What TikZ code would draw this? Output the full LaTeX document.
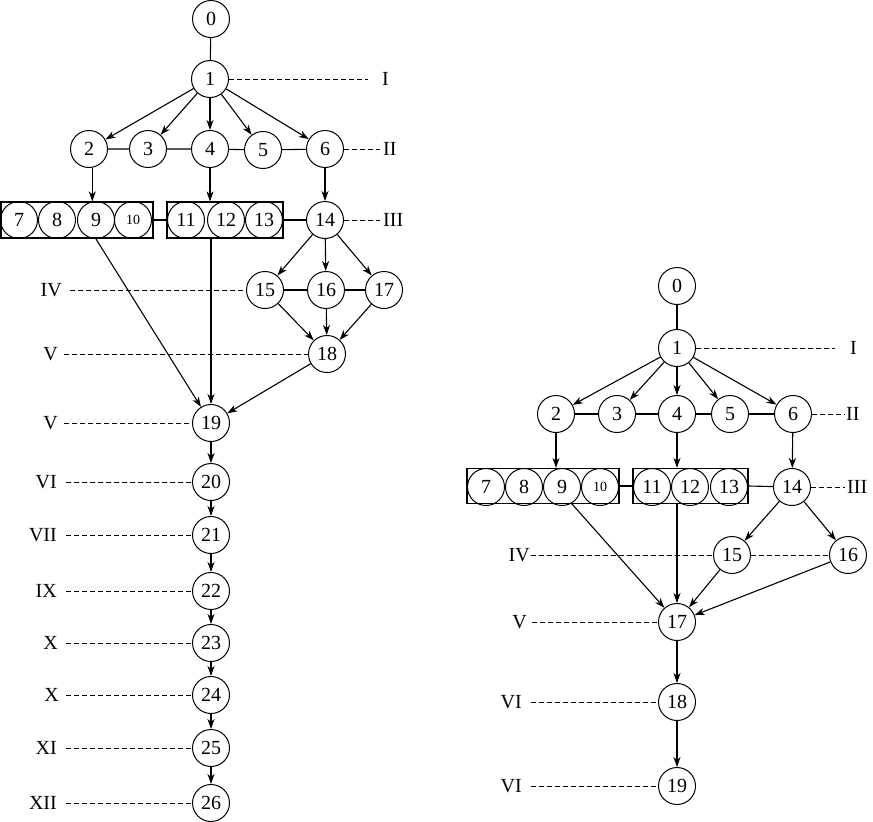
\documentclass[tikz,border=0pt]{standalone}
\usepackage{fontspec}
\setmainfont{Liberation Serif}
\usetikzlibrary{arrows.meta}
\begin{document}
\begin{tikzpicture}[x=1pt,y=-1pt,
  nd/.style={circle,draw,line width=1pt,minimum size=37pt,inner sep=0pt,font=\fontsize{20}{20}\selectfont},
  sm/.style={font=\fontsize{14}{14}\selectfont},
  bx/.style={draw,line width=1.2pt,inner sep=0pt},
  arr/.style={line width=1.1pt,-{Stealth[length=10pt,width=7pt,inset=3pt]}},
  ln/.style={line width=1.1pt},
  dsh/.style={line width=1pt,dash pattern=on 5pt off 3pt},
  tdsh/.style={line width=0.6pt,dash pattern=on 5pt off 3pt},
  lab/.style={font=\fontsize{20}{20}\selectfont,inner ysep=0pt}]
\useasboundingbox (0,0) rectangle (873,822);
% ---------------- left diagram ----------------
\node[nd] (a0) at (211,19) {0};
\node[nd] (a1) at (210,79) {1};
\node[nd] (a2) at (89,149) {2};
\node[nd] (a3) at (148,149) {3};
\node[nd] (a4) at (210,149) {4};
\node[nd] (a5) at (263,150) {5};
\node[nd] (a6) at (325,149) {6};
\node[bx,minimum width=152pt,minimum height=36pt] (aB1) at (77,220) {};
\node[nd] (a7) at (19,220) {7};
\node[nd] (a8) at (57,220) {8};
\node[nd] (a9) at (96,220) {9};
\node[nd,sm] (a10) at (133,220) {10};
\node[bx,minimum width=116pt,minimum height=36pt] (aB2) at (225,220) {};
\node[nd] (a11) at (186,220) {11};
\node[nd] (a12) at (226,220) {12};
\node[nd] (a13) at (264,220) {13};
\node[nd] (a14) at (325,220) {14};
\node[nd] (a15) at (265,290) {15};
\node[nd] (a16) at (326,290) {16};
\node[nd] (a17) at (384,290) {17};
\node[nd] (a18) at (327,354) {18};
\node[nd] (a19) at (211,423) {19};
\node[nd] (a20) at (211,482) {20};
\node[nd] (a21) at (211,535) {21};
\node[nd] (a22) at (211,591) {22};
\node[nd] (a23) at (211,643) {23};
\node[nd] (a24) at (211,695) {24};
\node[nd] (a25) at (211,748) {25};
\node[nd] (a26) at (211,803) {26};
% labels
\node[lab,anchor=west,inner xsep=14pt] (laI) at (368,79) {I};
\node[lab,anchor=west,inner xsep=3pt] (laII) at (380,149) {II};
\node[lab,anchor=west,inner xsep=3pt] (laIII) at (380,220) {III};
\node[lab,anchor=east,inner xsep=8pt] (laIV) at (70,290) {IV};
\node[lab,anchor=east,inner xsep=6pt] (laV) at (64,354) {V};
\node[lab,anchor=east,inner xsep=6pt] (laVb) at (64,423) {V};
\node[lab,anchor=east,inner xsep=9pt] (laVI) at (66,482) {VI};
\node[lab,anchor=east,inner xsep=9pt] (laVII) at (66,535) {VII};
\node[lab,anchor=east,inner xsep=9pt] (laIX) at (66,591) {IX};
\node[lab,anchor=east,inner xsep=8pt] (laX) at (66,643) {X};
\node[lab,anchor=east,inner xsep=7pt] (laXb) at (66,695) {X};
\node[lab,anchor=east,inner xsep=9pt] (laXI) at (66,748) {XI};
\node[lab,anchor=east,inner xsep=9pt] (laXII) at (66,803) {XII};
% connectors
\draw[ln] (a0)--(a1);
\draw[arr] (a1)--(a2);
\draw[arr] (a1)--(a3);
\draw[arr] (a1)--(a4);
\draw[arr] (a1)--(a5);
\draw[arr] (a1)--(a6);
\draw[ln] (a2)--(a3) (a3)--(a4) (a4)--(a5) (a5)--(a6);
\draw[arr] (a2.-80)--(a2.-80|-aB1.north);
\draw[arr] (a4)--(a4|-aB2.north);
\draw[arr] (a6)--(a14);
\draw[ln] (aB1.east)--(aB2.west);
\draw[ln] (aB2.east)--(a14);
\draw[arr] (a14)--(a15);
\draw[arr] (a14)--(a16);
\draw[arr] (a14)--(a17);
\draw[ln] (a15)--(a16) (a16)--(a17);
\draw[arr] (a15)--(a18);
\draw[arr] (a16)--(a18);
\draw[arr] (a17)--(a18);
\draw[arr] (a18)--(a19);
\draw[arr] (a9.south)--(a19);
\draw[arr] (a19|-aB2.south)--(a19);
\draw[arr] (a19)--(a20);
\draw[arr] (a20)--(a21);
\draw[arr] (a21)--(a22);
\draw[arr] (a22)--(a23);
\draw[arr] (a23)--(a24);
\draw[arr] (a24)--(a25);
\draw[arr] (a25)--(a26);
\draw[dsh] (a1.east)--(laI.west);
\draw[dsh] (a6.east)--(laII.west);
\draw[dsh] (a14.east)--(laIII.west);
\draw[dsh] (laIV.east)--(a15.west);
\draw[dsh] (laV.east)--(a18.west);
\draw[dsh] (laVb.east)--(a19.west);
\draw[dsh] (laVI.east)--(a20.west);
\draw[dsh] (laVII.east)--(a21.west);
\draw[dsh] (laIX.east)--(a22.west);
\draw[dsh] (laX.east)--(a23.west);
\draw[dsh] (laXb.east)--(a24.west);
\draw[dsh] (laXI.east)--(a25.west);
\draw[dsh] (laXII.east)--(a26.west);
% ---------------- right diagram ----------------
\node[nd] (b0) at (677,286) {0};
\node[nd] (b1) at (677,348) {1};
\node[nd] (b2) at (556,414) {2};
\node[nd] (b3) at (617,414) {3};
\node[nd] (b4) at (677,414) {4};
\node[nd] (b5) at (730,414) {5};
\node[nd] (b6) at (793,414) {6};
\node[bx,minimum width=152pt,minimum height=35pt] (bB1) at (543,486) {};
\node[nd] (b7) at (486,487) {7};
\node[nd] (b8) at (524,487) {8};
\node[nd] (b9) at (562,487) {9};
\node[nd,sm] (b10) at (600,487) {10};
\node[bx,minimum width=115pt,minimum height=35pt] (bB2) at (690.5,486) {};
\node[nd] (b11) at (652,487) {11};
\node[nd] (b12) at (690,487) {12};
\node[nd] (b13) at (729,487) {13};
\node[nd] (b14) at (792,487) {14};
\node[nd] (b15) at (732,555) {15};
\node[nd] (b16) at (848,555) {16};
\node[nd] (b17) at (677,622) {17};
\node[nd] (b18) at (677,702) {18};
\node[nd] (b19) at (677,786) {19};
\node[lab,anchor=west,inner xsep=15pt] (lbI) at (835,348) {I};
\node[lab,anchor=west,inner xsep=1pt] (lbII) at (845,414) {II};
\node[lab,anchor=west,inner xsep=2pt] (lbIII) at (845,487) {III};
\node[lab,anchor=east,inner xsep=1pt] (lbIV) at (531,555) {IV};
\node[lab,anchor=east,inner xsep=5pt] (lbV) at (532,622) {V};
\node[lab,anchor=east,inner xsep=9pt] (lbVI) at (531,702) {VI};
\node[lab,anchor=east,inner xsep=9pt] (lbVIb) at (531,786) {VI};
\draw[ln] (b0)--(b1);
\draw[arr] (b1)--(b2);
\draw[arr] (b1)--(b3);
\draw[arr] (b1)--(b4);
\draw[arr] (b1)--(b5);
\draw[arr] (b1)--(b6);
\draw[ln] (b2)--(b3) (b3)--(b4) (b4)--(b5) (b5)--(b6);
\draw[arr] (b2)--(b2|-bB1.north);
\draw[arr] (b4)--(b4|-bB2.north);
\draw[arr] (b6)--(b14);
\draw[ln] (bB1.east)--(bB2.west);
\draw[ln] (bB2.east)--(b14);
\draw[arr] (b14)--(b15);
\draw[arr] (b14)--(b16);
\draw[arr] (b9.-60)--(b17);
\draw[arr] (b17|-bB2.south)--(b17);
\draw[arr] (b15)--(b17);
\draw[arr] (b16)--(b17);
\draw[arr] (b17)--(b18);
\draw[arr] (b18)--(b19);
\draw[dsh] (b1.east)--(lbI.west);
\draw[dsh] (b6.east)--(lbII.west);
\draw[dsh] (b14.east)--(lbIII.west);
\draw[dsh] (lbIV.east)--(b15.west);
\draw[tdsh] (b15.east)--(b16.west);
\draw[dsh] (lbV.east)--(b17.west);
\draw[tdsh] (lbVI.east)--(b18.west);
\draw[tdsh] (lbVIb.east)--(b19.west);
\end{tikzpicture}
\end{document}
